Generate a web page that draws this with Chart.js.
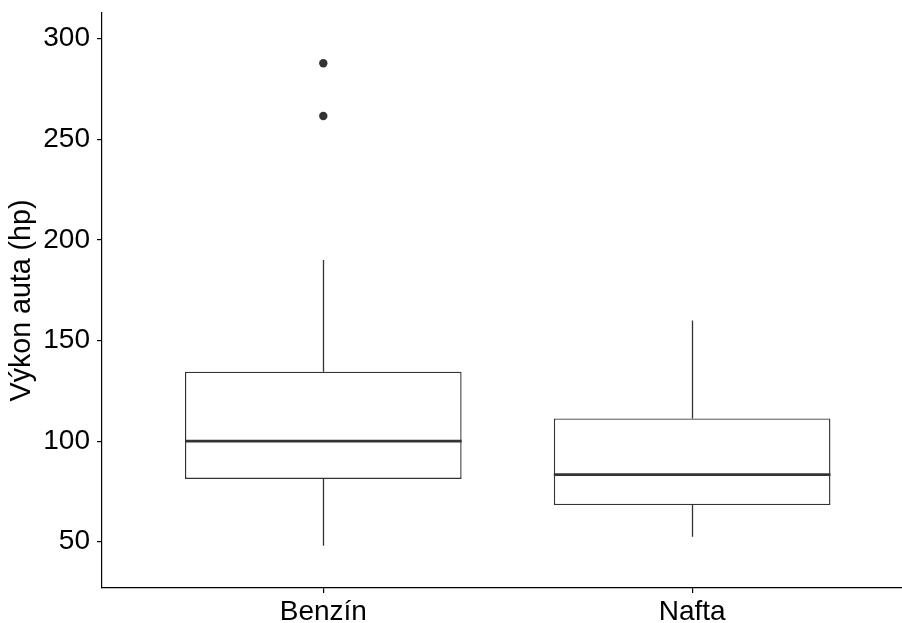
<!DOCTYPE html>
<html>
<head>
<meta charset="utf-8">
<script src="https://cdn.jsdelivr.net/npm/chart.js@4/dist/chart.umd.min.js"></script>
<style>
  html, body { margin: 0; padding: 0; background: #fff; }
  #wrap { width: 902px; height: 623px; }
</style>
</head>
<body>
<div id="wrap"><canvas id="myChart"></canvas></div>
<script>
// boxplot summary per fuel type
const categories = ['Benzín', 'Nafta'];
const positions = [1, 2];
const whiskerLow = [48, 52.5];
const q1 = [81.2, 68.2];
const median = [100, 83.4];
const q3 = [134.5, 111.3];
const whiskerHigh = [190, 160];

// outliers (category position, value)
const outlierPos = [1, 1];
const outlierVal = [261.6, 287.8];

const yTicks = [50, 100, 150, 200, 250, 300];

const lineColor = '#333333';
const fontSpec = { family: '"Liberation Sans", Arial, sans-serif', size: 28 };

/**
 * Draws whiskers and median lines on top of the box bars,
 * using the chart's own scales for every coordinate.
 */
const boxplotLines = {
    id: 'boxplotLines',
    afterDatasetsDraw(chart) {
        const ctx = chart.ctx;
        const x = chart.scales.x;
        const y = chart.scales.y;
        const boxMeta = chart.getDatasetMeta(0);

        ctx.save();
        ctx.strokeStyle = lineColor;
        ctx.lineCap = 'butt';

        positions.forEach((p, i) => {
            const cx = Math.round(x.getPixelForValue(p)) + 0.5;
            // whiskers
            ctx.lineWidth = 1.3;
            ctx.beginPath();
            ctx.moveTo(cx, y.getPixelForValue(q3[i]));
            ctx.lineTo(cx, y.getPixelForValue(whiskerHigh[i]));
            ctx.moveTo(cx, y.getPixelForValue(q1[i]));
            ctx.lineTo(cx, y.getPixelForValue(whiskerLow[i]));
            ctx.stroke();

            // median
            const bar = boxMeta.data[i];
            const half = bar.width / 2;
            ctx.lineWidth = 2.8;
            ctx.beginPath();
            ctx.moveTo(bar.x - half, y.getPixelForValue(median[i]));
            ctx.lineTo(bar.x + half, y.getPixelForValue(median[i]));
            ctx.stroke();
        });
        ctx.restore();
    }
};

const ctx = document.getElementById('myChart').getContext('2d');

new Chart(ctx, {
    type: 'bar',
    data: {
        datasets: [{
            type: 'bar',
            data: positions.map((p, i) => ({ x: p, y: [q1[i], q3[i]] })),
            backgroundColor: '#ffffff',
            borderColor: lineColor,
            borderWidth: 1.4,
            borderSkipped: false,
            categoryPercentage: 1,
            barPercentage: 0.75
        }, {
            type: 'scatter',
            data: outlierPos.map((p, i) => ({ x: p, y: outlierVal[i] })),
            backgroundColor: lineColor,
            borderColor: lineColor,
            pointRadius: 4.2,
            pointBorderWidth: 0,
            showLine: false
        }]
    },
    options: {
        responsive: true,
        maintainAspectRatio: false,
        animation: false,
        layout: {
            autoPadding: false,
            padding: { top: 13, right: 0, left: 0, bottom: 0 }
        },
        scales: {
            x: {
                type: 'linear',
                min: 0.4,
                max: 2.569,
                offset: false,
                afterBuildTicks: scale => { scale.ticks = positions.map(v => ({ value: v })); },
                afterFit: scale => {
                    scale.height = 35;
                    scale.paddingLeft = 0;
                    scale.paddingRight = 0;
                },
                border: { display: true, color: '#000', width: 1.2 },
                grid: {
                    offset: false,
                    drawOnChartArea: false,
                    drawTicks: true,
                    tickLength: 5,
                    color: '#000',
                    lineWidth: 1.2
                },
                ticks: {
                    padding: 2,
                    color: '#000',
                    font: fontSpec,
                    maxRotation: 0,
                    callback: v => categories[positions.indexOf(v)] ?? ''
                }
            },
            y: {
                min: 27,
                max: 312.8,
                afterBuildTicks: scale => { scale.ticks = yTicks.map(v => ({ value: v })); },
                afterFit: scale => {
                    scale.width = 102;
                    scale.paddingTop = 0;
                    scale.paddingBottom = 0;
                },
                border: { display: true, color: '#000', width: 1.2 },
                grid: {
                    drawOnChartArea: false,
                    drawTicks: true,
                    tickLength: 5,
                    color: '#000',
                    lineWidth: 1.2
                },
                ticks: {
                    padding: 7,
                    color: '#000',
                    font: fontSpec
                },
                title: {
                    display: true,
                    text: 'Výkon auta (hp)',
                    color: '#000',
                    font: { family: fontSpec.family, size: 28.6 },
                    padding: { top: 5, bottom: 0 }
                }
            }
        },
        plugins: {
            legend: { display: false },
            tooltip: { enabled: false }
        }
    },
    plugins: [boxplotLines]
});
</script>
</body>
</html>
